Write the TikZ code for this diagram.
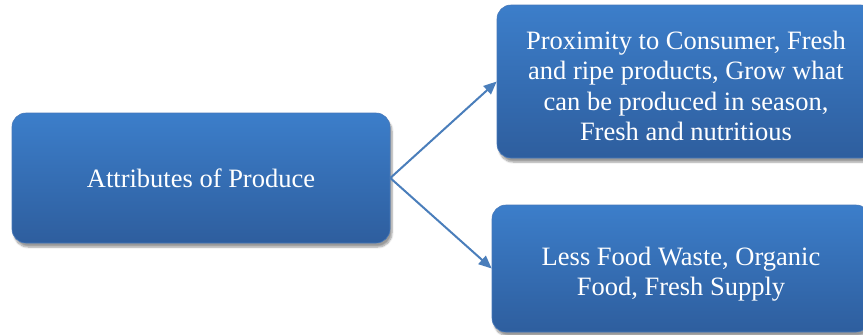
\documentclass[tikz,border=0pt]{standalone}
\usepackage{fontspec}
\setmainfont{Liberation Serif}
\usetikzlibrary{arrows.meta,shadows.blur}
\definecolor{boxtop}{RGB}{60,126,202}
\definecolor{boxbot}{RGB}{46,94,158}
\definecolor{boxedge}{RGB}{70,120,185}
\definecolor{arrowc}{RGB}{74,126,187}
\tikzset{
  blockbox/.style={rectangle, rounded corners=14pt, top color=boxtop, bottom color=boxbot,
    draw=boxedge, line width=0.6pt, text=white, align=center,
    font=\fontsize{26.5pt}{30.5pt}\selectfont, inner sep=0pt,
    blur shadow={shadow xshift=2pt, shadow yshift=-4pt, shadow blur steps=6, shadow opacity=40}},
  linkarrow/.style={draw=arrowc, line width=2pt, -{Triangle[length=13pt,width=11pt]}}
}
\begin{document}
\begin{tikzpicture}[x=1pt,y=-1pt]
\useasboundingbox (0,0) rectangle (863,335);
\node[blockbox, minimum width=378pt, minimum height=130pt] (attr) at (201,178) {Attributes of Produce};
\node[blockbox, minimum width=378pt, minimum height=153pt] (prox) at (686,81.5)
  {\rule{0pt}{27.5pt}Proximity to Consumer, Fresh\\and ripe products, Grow what\\can be produced in season,\\Fresh and nutritious};
\node[blockbox, minimum width=378pt, minimum height=127pt] (less) at (681,268.5)
  {\rule{0pt}{29.5pt}Less Food Waste, Organic\\Food, Fresh Supply};
\draw[linkarrow] (attr.east) -- (prox.west);
\draw[linkarrow] (attr.east) -- (less.west);
\end{tikzpicture}
\end{document}
